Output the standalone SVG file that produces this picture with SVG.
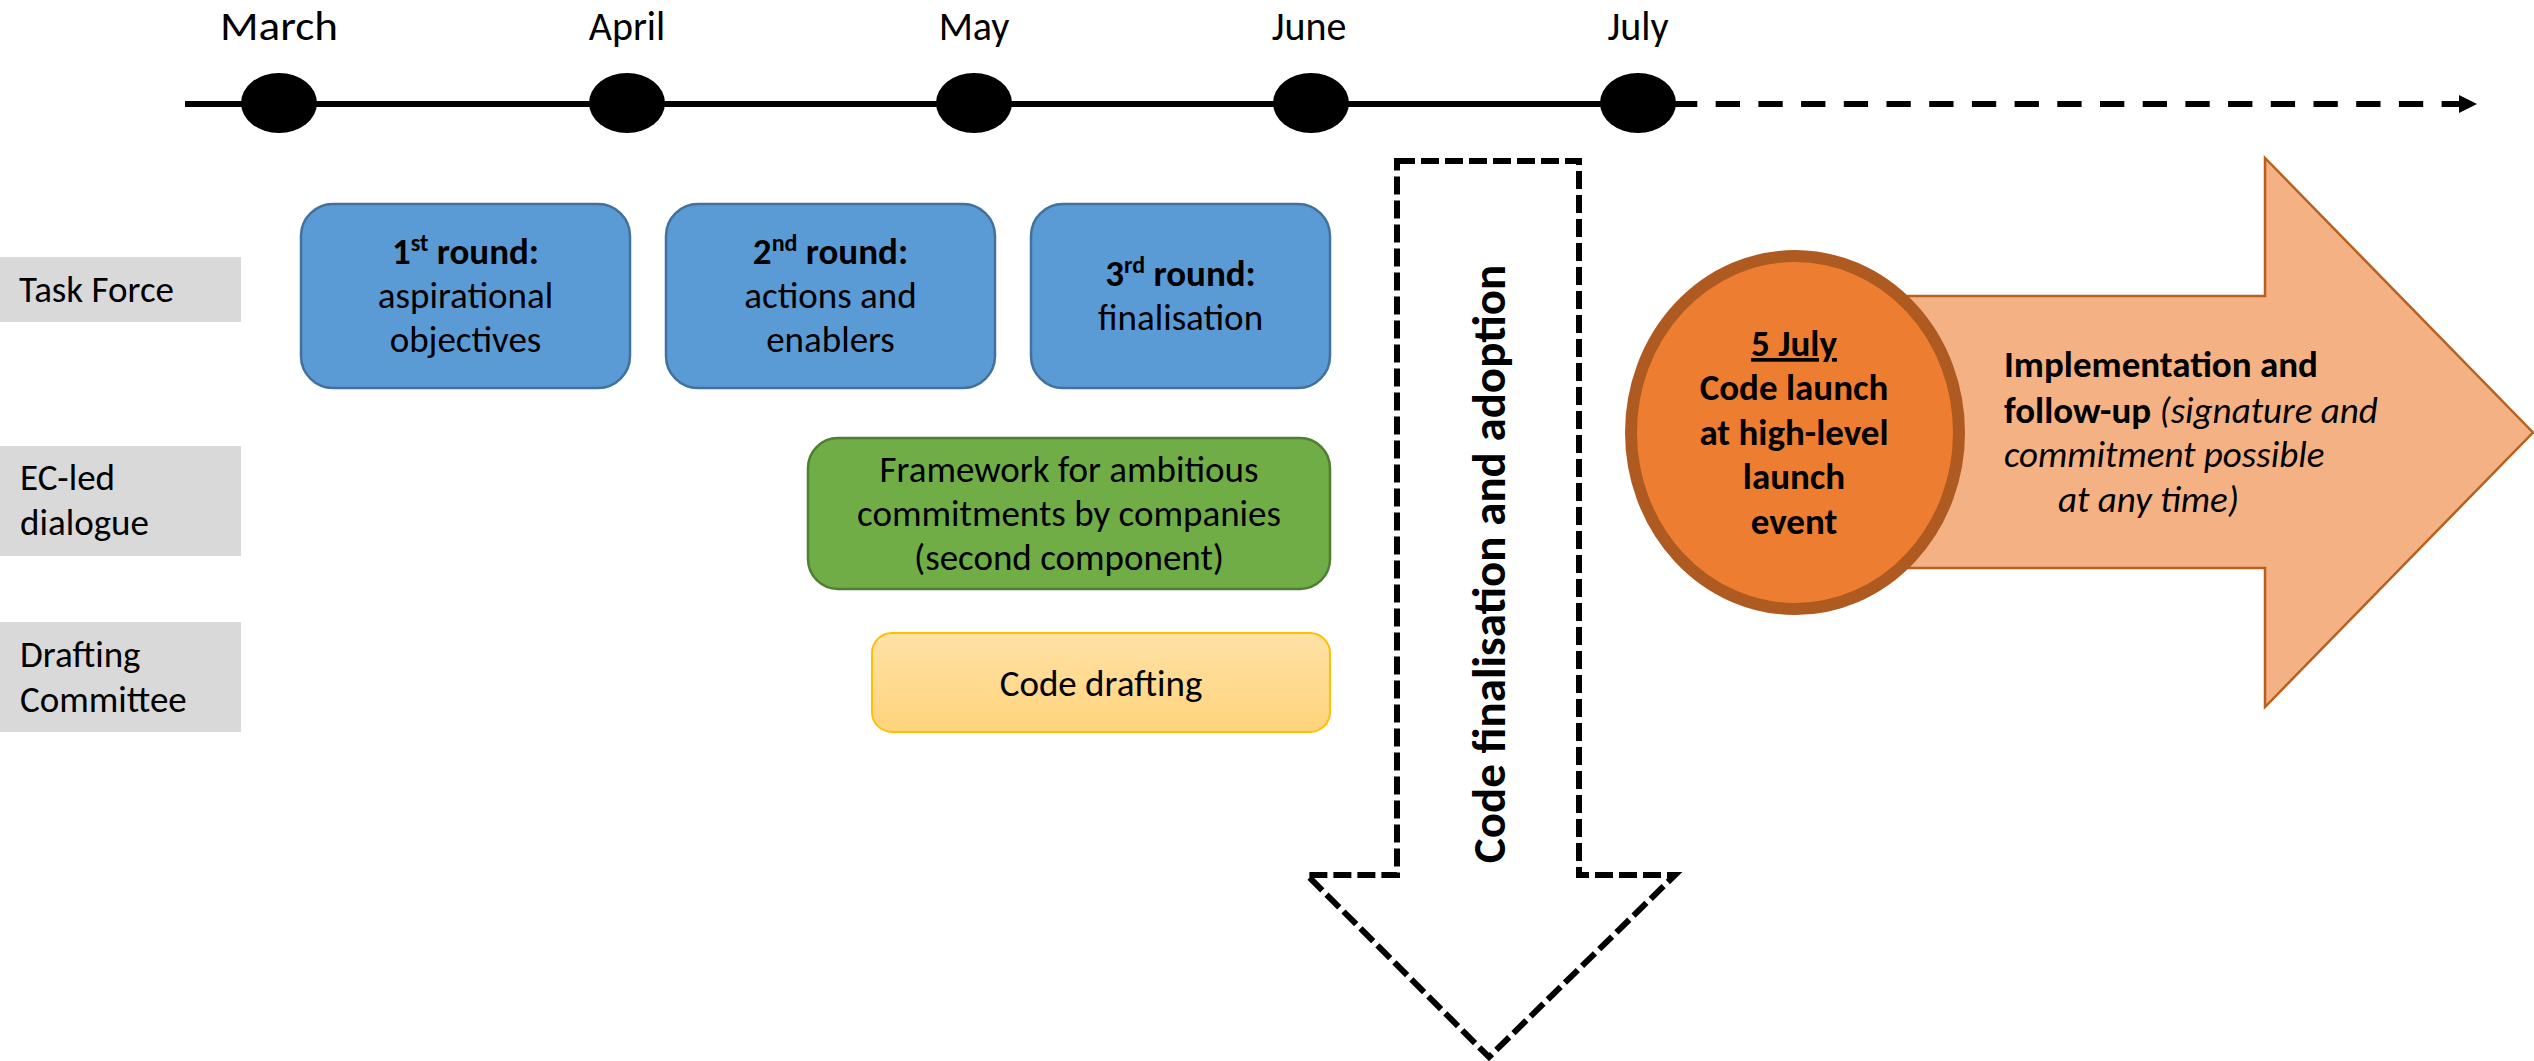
<svg xmlns="http://www.w3.org/2000/svg" width="2534" height="1061" viewBox="0 0 2534 1061">
<defs>
<style>
text{font-family:Carlito,Lato,"Liberation Sans",sans-serif;fill:#000}
.t{font-size:37px}
.c{text-anchor:middle}
.b{font-weight:bold}
.i{font-style:italic}
.month{font-size:40px;text-anchor:middle}
.dot{fill:#000}
.lbl{fill:#D9D9D9}
.blue{fill:#5B9BD5;stroke:#41719C;stroke-width:2.5}
.green{fill:#70AD47;stroke:#507E32;stroke-width:2.5}
.yellow{fill:url(#yg);stroke:#FFC000;stroke-width:2}
.sup{font-size:24px}
</style>
<linearGradient id="yg" x1="0" y1="0" x2="0" y2="1">
<stop offset="0" stop-color="#FFE2A6"/>
<stop offset="1" stop-color="#FFD37C"/>
</linearGradient>
<marker id="ah" markerUnits="userSpaceOnUse" viewBox="0 0 18 18" markerWidth="18" markerHeight="18" refX="18" refY="9" orient="auto">
<path d="M0,0 L18,9 L0,18 z" fill="#000"/>
</marker>
</defs>
<rect width="2534" height="1061" fill="#fff"/>

<g id="connectors">
<line x1="185" y1="104" x2="1673" y2="104" stroke="#000" stroke-width="6"/>
<line x1="1673" y1="104" x2="2477" y2="104" stroke="#000" stroke-width="6" stroke-dasharray="24.3 18.4" marker-end="url(#ah)"/>
</g>

<g id="m-march"><ellipse class="dot" cx="279" cy="103" rx="38" ry="30"/><text class="month" x="279" y="40" textLength="118" lengthAdjust="spacingAndGlyphs">March</text></g>
<g id="m-april"><ellipse class="dot" cx="627" cy="103" rx="38" ry="30"/><text class="month" x="627" y="40">April</text></g>
<g id="m-may"><ellipse class="dot" cx="974" cy="103" rx="38" ry="30"/><text class="month" x="974" y="40">May</text></g>
<g id="m-june"><ellipse class="dot" cx="1311" cy="103" rx="38" ry="30"/><text class="month" x="1309" y="40">June</text></g>
<g id="m-july"><ellipse class="dot" cx="1638" cy="103" rx="38" ry="30"/><text class="month" x="1638" y="40">July</text></g>

<g id="lbl-taskforce"><rect class="lbl" x="0" y="257" width="241" height="65"/><text class="t" x="19" y="302">Task Force</text></g>
<g id="lbl-ec"><rect class="lbl" x="0" y="446" width="241" height="110"/><text class="t" x="20" y="490">EC-led</text><text class="t" x="20" y="535">dialogue</text></g>
<g id="lbl-drafting"><rect class="lbl" x="0" y="622" width="241" height="110"/><text class="t" x="20" y="667">Drafting</text><text class="t" x="20" y="712">Committee</text></g>

<g id="round1"><rect class="blue" x="301" y="204" width="329" height="184" rx="32"/>
<text class="t c b" x="465.5" y="264">1<tspan class="sup" dy="-13">st</tspan><tspan dy="13"> round:</tspan></text>
<text class="t c" x="465.5" y="308">aspirational</text>
<text class="t c" x="465.5" y="352">objectives</text></g>

<g id="round2"><rect class="blue" x="666" y="204" width="329" height="184" rx="32"/>
<text class="t c b" x="830.5" y="264">2<tspan class="sup" dy="-13">nd</tspan><tspan dy="13"> round:</tspan></text>
<text class="t c" x="830.5" y="308">actions and</text>
<text class="t c" x="830.5" y="352">enablers</text></g>

<g id="round3"><rect class="blue" x="1031" y="204" width="299" height="184" rx="32"/>
<text class="t c b" x="1180.5" y="286">3<tspan class="sup" dy="-13">rd</tspan><tspan dy="13"> round:</tspan></text>
<text class="t c" x="1180.5" y="330">finalisation</text></g>

<g id="framework"><rect class="green" x="808" y="438" width="522" height="151" rx="30"/>
<text class="t c" x="1069" y="482">Framework for ambitious</text>
<text class="t c" x="1069" y="526">commitments by companies</text>
<text class="t c" x="1069" y="570">(second component)</text></g>

<g id="drafting"><rect class="yellow" x="872" y="633" width="458" height="99" rx="20"/>
<text class="t c" x="1101" y="696">Code drafting</text></g>

<g id="finalisation">
<path d="M1397,161 L1579,161 L1579,875 L1675,875 L1489,1057 L1307,875 L1397,875 Z" fill="#fff" stroke="#000" stroke-width="6" stroke-dasharray="18 6"/>
<text class="b" font-size="47" text-anchor="middle" transform="translate(1505,564) rotate(-90)">Code finalisation and adoption</text>
</g>

<g id="implementation">
<path d="M1795,296 L2265,296 L2265,158 L2533,432.5 L2265,707 L2265,568 L1795,568 Z" fill="#F4B183" stroke="#B8601F" stroke-width="2.5"/>
<text class="t" x="2004" y="377"><tspan class="b">Implementation and</tspan></text>
<text class="t" x="2004" y="423"><tspan class="b">follow-up</tspan><tspan class="i"> (signature and</tspan></text>
<text class="t i" x="2004" y="467">commitment possible</text>
<text class="t i" x="2058" y="512">at any time)</text>
</g>

<g id="launch">
<ellipse cx="1795" cy="432.5" rx="164" ry="176.5" fill="#ED7D31" stroke="#AE5A21" stroke-width="12"/>
<text class="t c b" x="1794" y="356" text-decoration="underline">5 July</text>
<text class="t c b" x="1794" y="400">Code launch</text>
<text class="t c b" x="1794" y="445">at high-level</text>
<text class="t c b" x="1794" y="489">launch</text>
<text class="t c b" x="1794" y="534">event</text>
</g>
</svg>
